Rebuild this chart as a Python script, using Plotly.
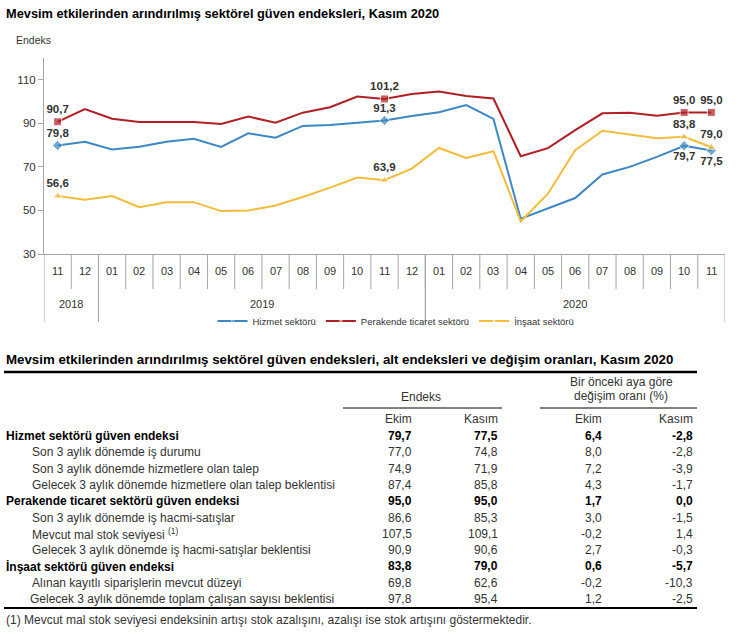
import plotly.graph_objects as go

# ---------------- chart data ----------------
months = ["11", "12", "01", "02", "03", "04", "05", "06", "07", "08", "09", "10", "11", "12",
          "01", "02", "03", "04", "05", "06", "07", "08", "09", "10", "11"]
years = ["2018"] * 2 + ["2019"] * 12 + ["2020"] * 11
hizmet = [79.8, 81.5, 78.0, 79.2, 81.5, 82.9, 79.2, 85.4, 83.4, 88.8, 89.2, 90.4, 91.3, 93.4,
          95.1, 98.4, 92.0, 46.2, 51.0, 55.7, 66.5, 70.0, 74.6, 79.7, 77.5]
perakende = [90.7, 96.5, 92.1, 90.6, 90.6, 90.6, 89.7, 93.1, 90.3, 94.9, 97.4, 102.3, 101.2, 103.5,
             104.6, 102.6, 101.4, 74.9, 78.6, 86.9, 94.6, 94.9, 93.5, 95.0, 95.0]
insaat = [56.6, 54.9, 56.6, 51.5, 53.8, 53.8, 49.7, 50.0, 52.3, 56.2, 60.5, 65.1, 63.9, 69.2,
          78.7, 74.1, 77.2, 45.0, 57.7, 77.7, 86.6, 84.9, 83.1, 83.8, 79.0]
labeled = [0, 12, 23, 24]
series_names = ["Hizmet sektörü", "Perakende ticaret sektörü", "İnşaat sektörü"]
y_ticks = [30, 50, 70, 90, 110]

# ---------------- table data ----------------
row_labels = ["Hizmet sektörü güven endeksi",
              "Son 3 aylık dönemde iş durumu",
              "Son 3 aylık dönemde hizmetlere olan talep",
              "Gelecek 3 aylık dönemde hizmetlere olan talep beklentisi",
              "Perakende ticaret sektörü güven endeksi",
              "Son 3 aylık dönemde iş hacmi-satışlar",
              "Mevcut mal stok seviyesi <sup>(1)</sup>",
              "Gelecek 3 aylık dönemde iş hacmi-satışlar beklentisi",
              "İnşaat sektörü güven endeksi",
              "Alınan kayıtlı siparişlerin mevcut düzeyi",
              "Gelecek 3 aylık dönemde toplam çalışan sayısı beklentisi"]
bold_rows = [0, 4, 8]
ekim_idx = [79.7, 77.0, 74.9, 87.4, 95.0, 86.6, 107.5, 90.9, 83.8, 69.8, 97.8]
kasim_idx = [77.5, 74.8, 71.9, 85.8, 95.0, 85.3, 109.1, 90.6, 79.0, 62.6, 95.4]
ekim_chg = [6.4, 8.0, 7.2, 4.3, 1.7, 3.0, -0.2, 2.7, 0.6, -0.2, 1.2]
kasim_chg = [-2.8, -2.8, -3.9, -1.7, 0.0, -1.5, 1.4, -0.3, -5.7, -10.3, -2.5]

W, H = 744, 637
FONT = "Liberation Sans, Arial, sans-serif"
TXT = "#333333"
AXC = "#a6a6a6"


def px(x):
    return x / W


def py(y):
    return 1 - y / H


def fmt(v):
    return f"{v:.1f}".replace(".", ",")


xs = list(range(len(months)))
fig = go.Figure()

styles = [
    (hizmet, "#3c87c4", "diamond", ["top center", "top center", "bottom center", "bottom center"]),
    (perakende, "#b01f24", "square", ["top center"] * 4),
    (insaat, "#f2bc3b", "triangle-up", ["top center"] * 4),
]
for (vals, col, sym, pos), name in zip(styles, series_names):
    texts = [fmt(v) if i in labeled else None for i, v in enumerate(vals)]
    sizes = [8 if i in labeled else 0 for i in range(len(vals))]
    tpos = ["top center"] * len(vals)
    for k, i in enumerate(labeled):
        tpos[i] = pos[k]
    fig.add_trace(go.Scatter(
        x=xs, y=vals, name=name, mode="lines+markers+text",
        line=dict(color=col, width=2),
        marker=dict(symbol=sym, size=sizes, color=col),
        text=texts, textposition=tpos,
        textfont=dict(family=FONT, size=11.5, color=TXT, weight="bold"),
        cliponaxis=False,
    ))

shapes = []
annotations = []

# month labels and separators
for i, m in enumerate(months):
    annotations.append(dict(x=i, xref="x", y=py(271), yref="paper", text=m, showarrow=False,
                            font=dict(family=FONT, size=11, color=TXT), xanchor="center", yanchor="middle"))
for i in range(len(months) - 1):
    shapes.append(dict(type="line", xref="x", yref="paper", x0=i + 0.5, x1=i + 0.5,
                       y0=py(254), y1=py(289), line=dict(color=AXC, width=1)))
# year groups
groups = []
for i, yv in enumerate(years):
    if not groups or groups[-1][0] != yv:
        groups.append([yv, i, i])
    else:
        groups[-1][2] = i
for yv, a, b in groups:
    annotations.append(dict(x=(a + b) / 2, xref="x", y=py(304), yref="paper", text=yv, showarrow=False,
                            font=dict(family=FONT, size=11, color=TXT), xanchor="center", yanchor="middle"))
    for edge in (a - 0.5, b + 0.5):
        shapes.append(dict(type="line", xref="x", yref="paper", x0=edge, x1=edge,
                           y0=py(254), y1=py(322), line=dict(color=AXC, width=1)))

# chart titles
annotations.append(dict(x=px(4), y=py(13), xref="paper", yref="paper", text="<b>Mevsim etkilerinden arındırılmış sektörel güven endeksleri, Kasım 2020</b>",
                        showarrow=False, xanchor="left", yanchor="middle", font=dict(family=FONT, size=12.8, color="#000")))
annotations.append(dict(x=px(14), y=py(40), xref="paper", yref="paper", text="Endeks",
                        showarrow=False, xanchor="left", yanchor="middle", font=dict(family=FONT, size=10.5, color=TXT)))

# ---------------- table ----------------
annotations.append(dict(x=px(4), y=py(359), xref="paper", yref="paper",
                        text="<b>Mevsim etkilerinden arındırılmış sektörel güven endeksleri, alt endeksleri ve değişim oranları, Kasım 2020</b>",
                        showarrow=False, xanchor="left", yanchor="middle", font=dict(family=FONT, size=13.3, color="#000")))
shapes.append(dict(type="line", xref="paper", yref="paper", x0=px(4), x1=px(697), y0=py(372), y1=py(372),
                   line=dict(color="#000", width=2.5)))
hdr = dict(family=FONT, size=12, color=TXT)
annotations.append(dict(x=px(621), y=py(382), xref="paper", yref="paper", text="Bir önceki aya göre",
                        showarrow=False, xanchor="center", yanchor="middle", font=hdr))
annotations.append(dict(x=px(621), y=py(396), xref="paper", yref="paper", text="değişim oranı (%)",
                        showarrow=False, xanchor="center", yanchor="middle", font=hdr))
annotations.append(dict(x=px(421), y=py(397), xref="paper", yref="paper", text="Endeks",
                        showarrow=False, xanchor="center", yanchor="middle", font=hdr))
for x0, x1 in ((343, 502), (540, 697)):
    shapes.append(dict(type="line", xref="paper", yref="paper", x0=px(x0), x1=px(x1), y0=py(408), y1=py(408),
                       line=dict(color="#000", width=1)))
col_right = [414, 500, 604, 695]
for xr, t in zip(col_right, ["Ekim", "Kasım", "Ekim", "Kasım"]):
    annotations.append(dict(x=px(xr), y=py(419), xref="paper", yref="paper", text=t,
                            showarrow=False, xanchor="right", yanchor="middle", font=hdr))

for r, lab in enumerate(row_labels):
    yy = 436 + r * 16.3
    b = r in bold_rows
    f = dict(family=FONT, size=12, color=TXT if not b else "#000")
    if b:
        f["weight"] = "bold"
    xl = 4 if b else (28 if r == len(row_labels) - 1 else 30)
    annotations.append(dict(x=px(xl), y=py(yy), xref="paper", yref="paper", text=lab,
                            showarrow=False, xanchor="left", yanchor="middle", font=f))
    for xr, arr in zip(col_right, (ekim_idx, kasim_idx, ekim_chg, kasim_chg)):
        annotations.append(dict(x=px(xr), y=py(yy), xref="paper", yref="paper", text=fmt(arr[r]),
                                showarrow=False, xanchor="right", yanchor="middle", font=f))

shapes.append(dict(type="line", xref="paper", yref="paper", x0=px(4), x1=px(697), y0=py(608), y1=py(608),
                   line=dict(color="#000", width=2)))
annotations.append(dict(x=px(4), y=py(620), xref="paper", yref="paper",
                        text="(1) Mevcut mal stok seviyesi endeksinin artışı stok azalışını, azalışı ise stok artışını göstermektedir.",
                        showarrow=False, xanchor="left", yanchor="middle", font=dict(family=FONT, size=12, color=TXT)))

fig.update_layout(
    width=W, height=H, autosize=False,
    margin=dict(l=0, r=0, t=0, b=0),
    paper_bgcolor="white", plot_bgcolor="white",
    font=dict(family=FONT, color=TXT),
    showlegend=True,
    legend=dict(orientation="h", x=px(396), xanchor="center", y=py(321), yanchor="middle",
                font=dict(family=FONT, size=9.5, color=TXT), itemwidth=30, tracegroupgap=0,
                bgcolor="rgba(0,0,0,0)"),
    xaxis=dict(domain=[px(44), px(725)], range=[-0.5, len(months) - 0.5], showticklabels=False,
               showgrid=False, zeroline=False, showline=True, linecolor=AXC, ticks="", automargin=False,
               fixedrange=True),
    yaxis=dict(domain=[py(254), py(58)], range=[30, 120], tickvals=y_ticks, showgrid=False, zeroline=False,
               showline=True, linecolor=AXC, ticks="outside", ticklen=5, tickcolor=AXC,
               tickfont=dict(family=FONT, size=11.5, color=TXT), automargin=False),
    shapes=shapes, annotations=annotations,
)

fig.write_html("out.html", config={"displayModeBar": False},
               post_script="document.body.style.margin='0';document.body.style.padding='0';")
